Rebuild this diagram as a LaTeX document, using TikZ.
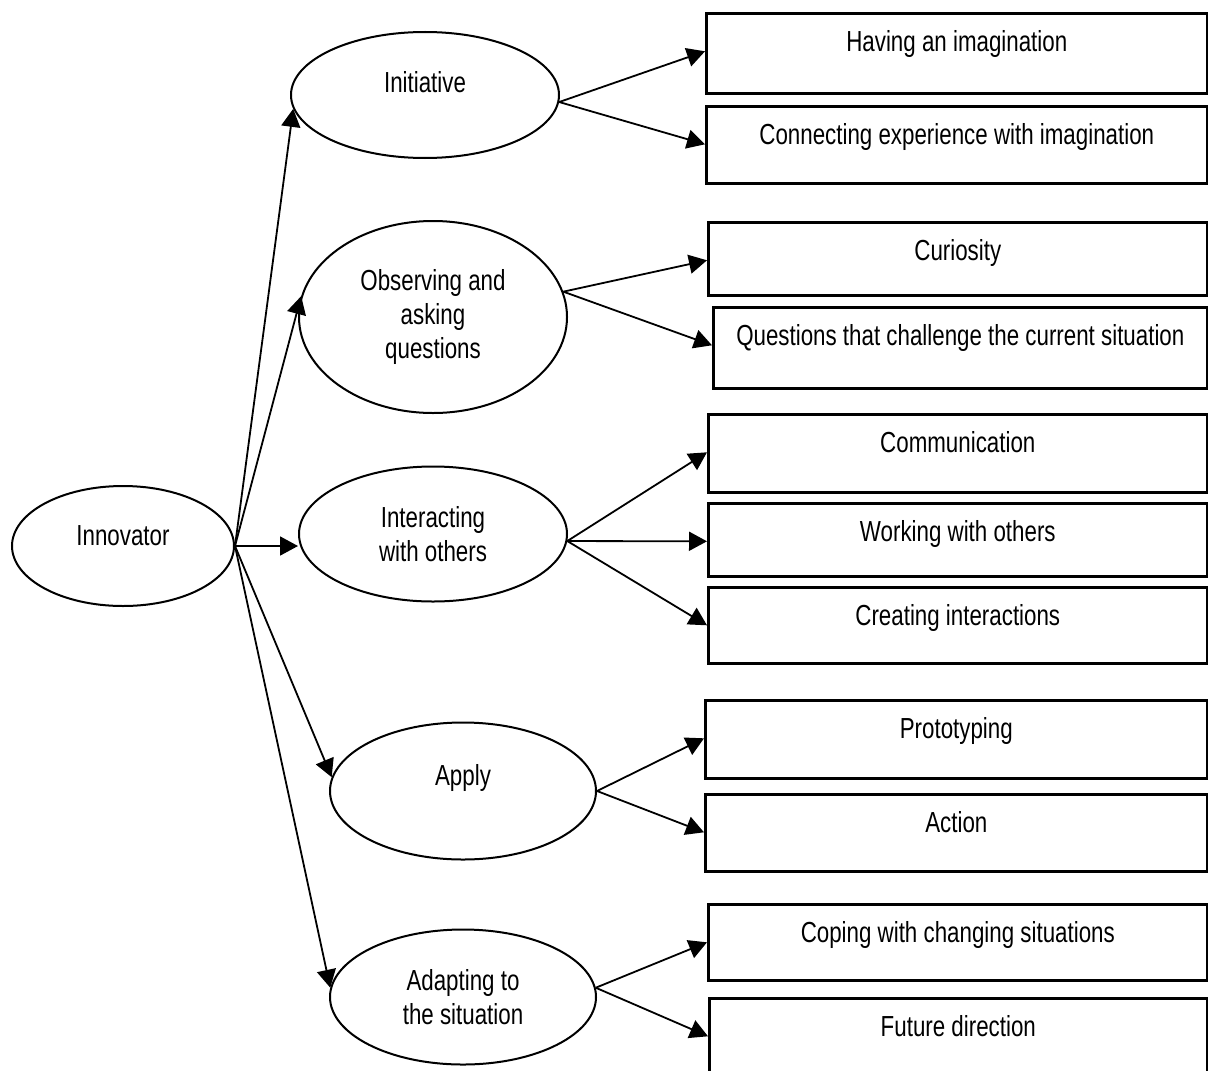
\documentclass[tikz,border=0pt]{standalone}
\usepackage{fontspec}
\setmainfont{Liberation Sans}[FakeStretch=0.77]
\usetikzlibrary{shapes.geometric,arrows.meta}

\begin{document}
\begin{tikzpicture}[x=0.5pt, y=-0.5pt, font=\fontsize{14.5pt}{17pt}\selectfont, >={Triangle[length=9pt,width=9.5pt]},
	oval/.style={ellipse, draw, line width=1pt, inner sep=0pt, align=center},
	item/.style={rectangle, draw, line width=1.3pt, inner sep=0pt, anchor=north west, text height=19pt},
	link/.style={->, line width=0.9pt}]
	\useasboundingbox (0,0) rectangle (1208,1070);
	\clip (0,0) rectangle (1208,1070);

	\node[oval, minimum width=111pt, minimum height=60pt, text depth=10pt] (inn) at (123,546) {Innovator};
	\node[oval, minimum width=134pt, minimum height=63pt, text depth=13pt] (init) at (425,95) {Initiative};
	\node[oval, minimum width=134pt, minimum height=96pt] (obs) at (433,317) {Observing and\\asking\\questions};
	\node[oval, minimum width=134pt, minimum height=67.5pt] (inter) at (433,534) {Interacting\\with others};
	\node[oval, minimum width=133pt, minimum height=68.5pt, text depth=16pt] (apply) at (463,791) {Apply};
	\node[oval, minimum width=133pt, minimum height=67.5pt] (adapt) at (463,997) {Adapting to\\the situation};

	\node[item, minimum width=250.5pt, text depth=21pt] (imag) at (705,12) {Having an imagination};
	\node[item, minimum width=250.5pt, text depth=19.5pt] (conn) at (705,105) {Connecting experience with imagination};
	\node[item, minimum width=249.5pt, text depth=17.5pt] (curi) at (707,221) {Curiosity};
	\node[item, minimum width=247pt, text depth=21.5pt] (quest) at (712,306) {Questions that challenge the current situation};
	\node[item, minimum width=249.5pt, text depth=20pt] (comm) at (707,413) {Communication};
	\node[item, minimum width=249.5pt, text depth=17.5pt] (work) at (707,502) {Working with others};
	\node[item, minimum width=249.5pt, text depth=19pt] (creat) at (707,586) {Creating interactions};
	\node[item, minimum width=251pt, text depth=20pt] (proto) at (704,699) {Prototyping};
	\node[item, minimum width=251pt, text depth=19.5pt] (act) at (704,793) {Action};
	\node[item, minimum width=249.5pt, text depth=19pt] (cope) at (707,903) {Coping with changing situations};
	\node[item, minimum width=249pt, text depth=31pt] (fut) at (708,997) {Future direction};

	\draw[link] (inn.east) -- (inn.east -| inter.west);
	\foreach \t/\a in {init/186, obs/171, apply/174, adapt/176}
		\draw[link] (inn.east) -- (\t.\a);
	\foreach \s/\t in {init.357/imag, init.357/conn, obs.11/curi, obs.11/quest, inter.357/comm, inter.357/work, inter.357/creat, apply.east/proto, apply.east/act, adapt.4/cope, adapt.4/fut}
		\draw[link] (\s) -- (\t.base west);
\end{tikzpicture}
\end{document}
